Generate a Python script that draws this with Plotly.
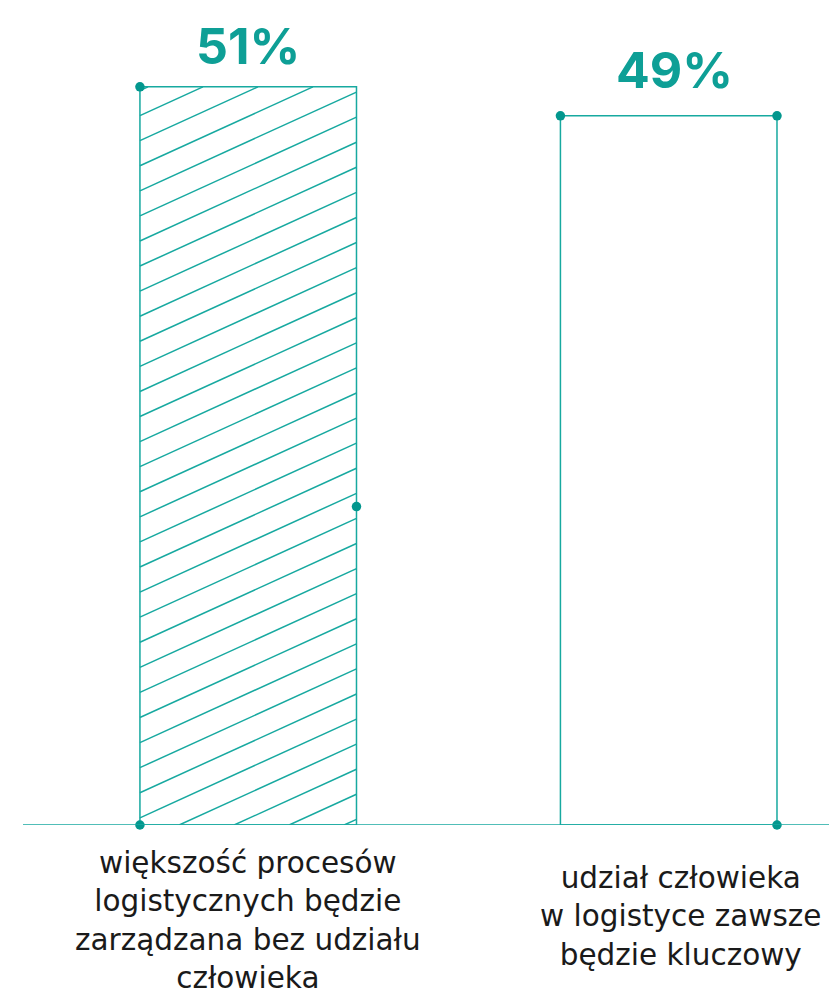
import plotly.graph_objects as go

categories = ["większość procesów<br>logistycznych będzie<br>zarządzana bez udziału<br>człowieka",
              "udział człowieka<br>w logistyce zawsze<br>będzie kluczowy"]
values = [51, 49]
value_labels = ["51%", "49%"]

TEAL = "#17a9a0"
DOT = "#03978e"
TXT_TEAL = "#0e9f96"

W, H = 829, 995
ML, MR, MT, MB = 23, 0, 0, 170
plot_w = W - ML - MR
plot_h = H - MT - MB

bar_width = 0.515
x_range = [-0.5356, 1.3812]
y_range = [0, 57.0]

px_per_x = plot_w / (x_range[1] - x_range[0])
px_per_y = plot_h / (y_range[1] - y_range[0])

fig = go.Figure()
xs = [0, 1]
fig.add_trace(go.Bar(x=xs, y=values, width=bar_width,
                     marker=dict(color="rgba(255,255,255,0)", line=dict(color=TEAL, width=1.5)),
                     hoverinfo="skip"))

# hatch lines for first bar (computed in pixel space, converted to data units)
slope = 0.456
spacing = 55.0
L = -bar_width / 2 * px_per_x
R = bar_width / 2 * px_per_x
Hpx = values[0] * px_per_y
c0 = L + 8.0
hx, hy = [], []
c = c0 - Hpx / slope - spacing * 2
while c < R:
    xs0 = max(L, c)
    xe = min(R, c + Hpx / slope)
    if xs0 < xe:
        hx += [xs[0] + xs0 / px_per_x, xs[0] + xe / px_per_x, None]
        hy += [slope * (xs0 - c) / px_per_y, slope * (xe - c) / px_per_y, None]
    c += spacing
fig.add_trace(go.Scatter(x=hx, y=hy, mode="lines", line=dict(color=TEAL, width=1.5),
                         hoverinfo="skip"))

# decorative dots
half = bar_width / 2
dot_x = [xs[0] - half, xs[0] + half, xs[0] - half, xs[1] - half, xs[1] + half, xs[1] + half]
dot_y = [values[0], 22, 0, values[1], values[1], 0]
fig.add_trace(go.Scatter(x=dot_x, y=dot_y, mode="markers",
                         marker=dict(color=DOT, size=9.5), hoverinfo="skip", cliponaxis=False))

# baseline
fig.add_shape(type="line", xref="paper", yref="y", x0=0, x1=1, y0=0, y1=0,
              line=dict(color=TEAL, width=1.5))

# value labels
shifts = [(0, 9), (6, 14)]
for i, (v, t) in enumerate(zip(values, value_labels)):
    fig.add_annotation(x=xs[i], y=v, text=f"<b>{t}</b>", showarrow=False,
                       xshift=shifts[i][0], yshift=shifts[i][1], yanchor="bottom",
                       font=dict(family="Inter, Lato, sans-serif", size=50, color=TXT_TEAL))

# category labels
lab_shift = [(0, -19), (12, -34)]
for i, t in enumerate(categories):
    fig.add_annotation(x=xs[i], y=0, text=t, showarrow=False, align="center",
                       xshift=lab_shift[i][0], yshift=lab_shift[i][1], yanchor="top",
                       font=dict(family="DejaVu Sans, sans-serif", size=29.5, color="#1a1a1a"))

fig.update_layout(
    width=W, height=H, margin=dict(l=ML, r=MR, t=MT, b=MB),
    paper_bgcolor="white", plot_bgcolor="white", showlegend=False,
    xaxis=dict(range=x_range, visible=False, fixedrange=True),
    yaxis=dict(range=y_range, visible=False, fixedrange=True),
)

fig.write_html("out.html")
